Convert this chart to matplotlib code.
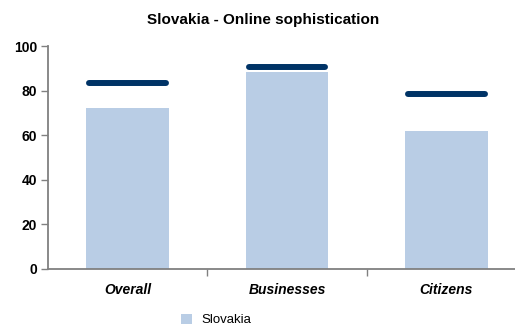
import matplotlib.pyplot as plt

categories = ["Overall", "Businesses", "Citizens"]
slovakia = [72.3, 88.5, 61.9]
eu_average = [83.5, 90.6, 78.6]
y_ticks = [0, 20, 40, 60, 80, 100]

plt.rcParams['font.family'] = ['Liberation Sans', 'DejaVu Sans']

fig = plt.figure(figsize=(5.15, 3.25), dpi=100)
ax = fig.add_axes([48 / 515, 56 / 325, 478 / 515, 223 / 325])

x = list(range(len(categories)))
bar_w = 0.52
ax.bar(x, slovakia, width=bar_w, color="#b9cde5", label="Slovakia", zorder=2)
ax.hlines(eu_average, [i - bar_w / 2 + 0.02 for i in x], [i + bar_w / 2 - 0.02 for i in x],
          colors="#003366", linewidth=4.3, capstyle="round", zorder=3)

ax.set_xlim(-0.5, len(categories) - 0.5)
ax.set_ylim(0, 100)
ax.set_yticks(y_ticks)
ax.set_yticklabels([str(t) for t in y_ticks], fontsize=10, fontweight="bold")

# category labels centered, ticks between them
ax.set_xticks([i + 0.5 for i in x[:-1]])
ax.set_xticklabels([])
ax.tick_params(axis="x", length=5, color="#808080", width=1)
ax.tick_params(axis="y", length=5, color="#808080", width=1, pad=3)
for i, c in enumerate(categories):
    ax.text(i, -9.5, c, ha="center", va="center", fontsize=10,
            fontweight="bold", fontstyle="italic")

for s in ["top", "right"]:
    ax.spines[s].set_visible(False)
for s in ["left", "bottom"]:
    ax.spines[s].set_color("#808080")
    ax.spines[s].set_linewidth(1.3)

fig.text(263 / 515, 1 - 20 / 325, "Slovakia - Online sophistication",
         ha="center", va="center", fontsize=11, fontweight="bold")

fig.legend(loc="center left", bbox_to_anchor=(176 / 515, 1 - 320 / 325),
           frameon=False, fontsize=9.5, handlelength=0.8, handleheight=0.8,
           handletextpad=0.7, borderaxespad=0)

fig.savefig("out.png", dpi=100)
